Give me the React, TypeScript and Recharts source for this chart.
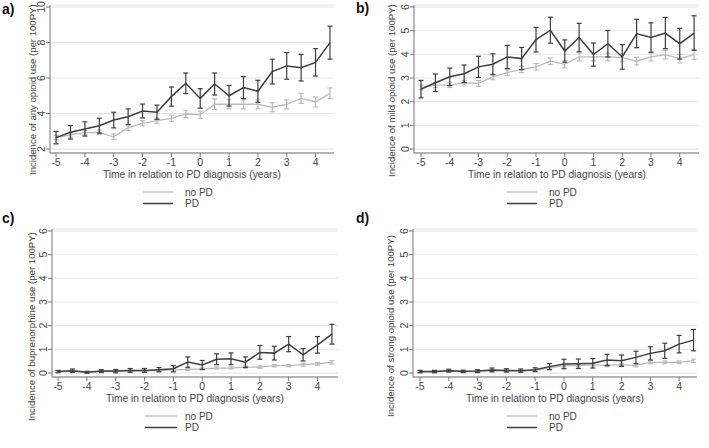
import React from 'react';
import { LineChart, Line, XAxis, YAxis, CartesianGrid, ErrorBar } from 'recharts';

const FONT = '"Liberation Sans", Arial, Helvetica, sans-serif';

const years = [-5, -4.5, -4, -3.5, -3, -2.5, -2, -1.5, -1, -0.5, 0, 0.5, 1, 1.5, 2, 2.5, 3, 3.5, 4, 4.5];
const xTicks = [-5, -4, -3, -2, -1, 0, 1, 2, 3, 4];
const ticksAny = [2, 4, 6, 8, 10];
const ticksSix = [0, 1, 2, 3, 4, 5, 6];

// a) any opioid use
const anyPD = [2.64, 2.94, 3.13, 3.31, 3.63, 3.82, 4.14, 4.07, 4.95, 5.70, 4.85, 5.66, 5.00, 5.46, 5.25, 6.36, 6.68, 6.58, 6.88, 7.99];
const anyPDci = [0.35, 0.38, 0.40, 0.42, 0.44, 0.44, 0.39, 0.40, 0.54, 0.58, 0.55, 0.62, 0.58, 0.62, 0.62, 0.70, 0.75, 0.75, 0.77, 0.93];
const anyNoPD = [2.64, 2.79, 2.92, 2.94, 2.69, 3.20, 3.45, 3.60, 3.73, 3.97, 3.92, 4.52, 4.52, 4.52, 4.52, 4.35, 4.52, 4.85, 4.65, 5.14];
const anyNoPDci = [0.12, 0.12, 0.12, 0.12, 0.15, 0.15, 0.15, 0.15, 0.18, 0.2, 0.2, 0.3, 0.25, 0.25, 0.25, 0.25, 0.25, 0.28, 0.28, 0.3];

// b) mild opioid use
const mildPD = [2.53, 2.80, 3.05, 3.18, 3.47, 3.58, 3.89, 3.82, 4.62, 5.02, 4.14, 4.71, 3.99, 4.45, 3.89, 4.88, 4.71, 4.90, 4.45, 4.90];
const mildPDci = [0.37, 0.37, 0.37, 0.37, 0.45, 0.44, 0.49, 0.47, 0.52, 0.55, 0.47, 0.60, 0.49, 0.56, 0.52, 0.60, 0.62, 0.66, 0.65, 0.73];
const mildNoPD = [2.60, 2.70, 2.70, 2.80, 2.77, 3.05, 3.23, 3.36, 3.47, 3.71, 3.58, 3.89, 3.89, 3.89, 3.86, 3.71, 3.89, 3.99, 3.82, 3.99];
const mildNoPDci = [0.1, 0.1, 0.1, 0.1, 0.12, 0.12, 0.12, 0.13, 0.14, 0.14, 0.15, 0.17, 0.16, 0.16, 0.16, 0.16, 0.17, 0.18, 0.18, 0.2];

// c) buprenorphine use
const bupPD = [0.06, 0.10, 0.03, 0.08, 0.08, 0.11, 0.11, 0.14, 0.18, 0.46, 0.34, 0.58, 0.60, 0.46, 0.87, 0.84, 1.22, 0.77, 1.19, 1.64];
const bupPDci = [0.05, 0.07, 0.04, 0.06, 0.07, 0.08, 0.08, 0.09, 0.13, 0.22, 0.19, 0.23, 0.25, 0.22, 0.29, 0.29, 0.32, 0.26, 0.35, 0.42];
const bupNoPD = [0.06, 0.08, 0.03, 0.07, 0.07, 0.09, 0.09, 0.11, 0.13, 0.15, 0.17, 0.21, 0.21, 0.25, 0.25, 0.31, 0.31, 0.35, 0.39, 0.45];
const bupNoPDci = [0.03, 0.03, 0.02, 0.03, 0.03, 0.03, 0.03, 0.03, 0.04, 0.04, 0.04, 0.04, 0.04, 0.05, 0.05, 0.05, 0.05, 0.06, 0.06, 0.07];

// d) strong opioid use
const strPD = [0.06, 0.06, 0.10, 0.07, 0.08, 0.13, 0.11, 0.10, 0.14, 0.27, 0.38, 0.39, 0.41, 0.55, 0.52, 0.66, 0.83, 0.94, 1.22, 1.39];
const strPDci = [0.05, 0.05, 0.06, 0.05, 0.06, 0.08, 0.07, 0.07, 0.08, 0.13, 0.2, 0.2, 0.2, 0.24, 0.24, 0.26, 0.28, 0.32, 0.37, 0.45];
const strNoPD = [0.05, 0.05, 0.08, 0.06, 0.07, 0.10, 0.09, 0.09, 0.12, 0.21, 0.31, 0.31, 0.34, 0.32, 0.35, 0.31, 0.45, 0.45, 0.45, 0.52];
const strNoPDci = [0.03, 0.03, 0.03, 0.03, 0.03, 0.04, 0.03, 0.03, 0.04, 0.05, 0.05, 0.05, 0.05, 0.05, 0.05, 0.05, 0.06, 0.06, 0.06, 0.07];

const xTitle = 'Time in relation to PD diagnosis (years)';
const legendLabels = ['no PD', 'PD'];

const PD_COLOR = '#3d3d3d';
const NOPD_COLOR = '#bababa';

function build(pd: number[], pdCi: number[], no: number[], noCi: number[]) {
  return years.map((t, i) => ({ t, pd: pd[i], pdErr: pdCi[i], nopd: no[i], nopdErr: noCi[i] }));
}

const dataA = build(anyPD, anyPDci, anyNoPD, anyNoPDci);
const dataB = build(mildPD, mildPDci, mildNoPD, mildNoPDci);
const dataC = build(bupPD, bupPDci, bupNoPD, bupNoPDci);
const dataD = build(strPD, strPDci, strNoPD, strNoPDci);

const YTick = (props: any) => {
  const { x, y, payload } = props;
  return (
    <text x={x} y={y} transform={`rotate(-90 ${x} ${y})`} textAnchor="middle" fontSize={10.5} fill="#444" fontFamily={FONT}>
      {payload.value}
    </text>
  );
};

const XTick = (props: any) => {
  const { x, y, payload } = props;
  return (
    <text x={x} y={y} dy="0.71em" textAnchor="middle" fontSize={10.5} fill="#444" fontFamily={FONT}>
      {payload.value}
    </text>
  );
};

function Panel(props: any) {
  const { left, top, width, data, yDomain, yTicks, yAxisWidth, right, xDomain } = props;
  return (
    <div style={{ position: 'absolute', left, top }}>
      <LineChart width={width} height={224} data={data} margin={{ top: 5, right, left: 0, bottom: 41 }}>
        <CartesianGrid horizontal vertical={false} stroke="#e4e4e4" />
        <XAxis
          type="number"
          dataKey="t"
          domain={xDomain}
          ticks={xTicks}
          allowDataOverflow
          interval={0}
          tick={<XTick />}
          tickSize={4}
          tickMargin={2}
          height={30}
          stroke="#777"
        />
        <YAxis
          type="number"
          domain={yDomain}
          ticks={yTicks}
          allowDataOverflow
          interval={0}
          width={yAxisWidth}
          tick={<YTick />}
          tickSize={4}
          tickMargin={1}
          stroke="#777"
        />
        <Line dataKey="nopd" stroke={NOPD_COLOR} strokeWidth={1.3} dot={false} isAnimationActive={false}>
          <ErrorBar dataKey="nopdErr" width={2.5} stroke={NOPD_COLOR} strokeWidth={1.2} direction="y" isAnimationActive={false} />
        </Line>
        <Line dataKey="pd" stroke={PD_COLOR} strokeWidth={1.5} dot={false} isAnimationActive={false}>
          <ErrorBar dataKey="pdErr" width={2.5} stroke={PD_COLOR} strokeWidth={1.2} direction="y" isAnimationActive={false} />
        </Line>
      </LineChart>
    </div>
  );
}

const panels = [
  { key: 'a', left: 0, top: 0, width: 354, data: dataA, yDomain: [1.775, 10.11], yTicks: ticksAny, yAxisWidth: 50, right: 20, xDomain: [-5.21, 4.64] },
  { key: 'b', left: 354, top: 0, width: 355, data: dataB, yDomain: [-0.169, 6.085], yTicks: ticksSix, yAxisWidth: 60, right: 10, xDomain: [-5.244, 4.67] },
  { key: 'c', left: 0, top: 224, width: 354, data: dataC, yDomain: [-0.169, 6.085], yTicks: ticksSix, yAxisWidth: 52, right: 16, xDomain: [-5.21, 4.71] },
  { key: 'd', left: 354, top: 224, width: 355, data: dataD, yDomain: [-0.169, 6.085], yTicks: ticksSix, yAxisWidth: 59, right: 12, xDomain: [-5.243, 4.62] },
];

const yTitles = [
  { text: 'Incidence of any opioid use (per 100PY)', x: 36, y: 175 },
  { text: 'Incidence of mild opioid use (per 100PY)', x: 395, y: 177 },
  { text: 'Incidence of buprenorphine use (per 100PY)', x: 35, y: 421 },
  { text: 'Incidence of strong opioid use (per 100PY)', x: 394, y: 417 },
];

const letters = [
  { text: 'a)', x: 2, y: 14 },
  { text: 'b)', x: 356, y: 13 },
  { text: 'c)', x: 2, y: 223 },
  { text: 'd)', x: 356, y: 223 },
];

const xTitles = [
  { x: 192, y: 177.5 },
  { x: 557, y: 177.5 },
  { x: 195, y: 401.5 },
  { x: 555, y: 401.5 },
];

const legends = [
  { x1: 143, x2: 173, tx: 185, y: 192 },
  { x1: 507, x2: 537, tx: 549, y: 192 },
  { x1: 145, x2: 177, tx: 185, y: 416 },
  { x1: 507, x2: 537, tx: 549, y: 416 },
];

export default function App() {
  return (
    <div style={{ position: 'absolute', left: 0, top: 0, width: 709, height: 448, background: '#ffffff', overflow: 'hidden', fontFamily: FONT }}>
      {panels.map((p) => (
        <Panel {...p} />
      ))}
      <svg width={709} height={448} style={{ position: 'absolute', left: 0, top: 0, pointerEvents: 'none' }}>
        {letters.map((l) => (
          <text key={l.text} x={l.x} y={l.y} fontSize={14} fontWeight="bold" fill="#111" fontFamily={FONT}>
            {l.text}
          </text>
        ))}
        {yTitles.map((t) => (
          <text key={t.text} x={t.x} y={t.y} transform={`rotate(-90 ${t.x} ${t.y})`} textAnchor="start" fontSize={9.6} fill="#444" fontFamily={FONT}>
            {t.text}
          </text>
        ))}
        {xTitles.map((t, i) => (
          <text key={i} x={t.x} y={t.y} textAnchor="middle" fontSize={10.2} fill="#444" fontFamily={FONT}>
            {xTitle}
          </text>
        ))}
        {legends.map((g, i) => (
          <g key={i}>
            <line x1={g.x1} x2={g.x2} y1={g.y} y2={g.y} stroke={NOPD_COLOR} strokeWidth={1.3} />
            <text x={g.tx} y={g.y + 3.5} fontSize={10} fill="#444" fontFamily={FONT}>{legendLabels[0]}</text>
            <line x1={g.x1} x2={g.x2} y1={g.y + 11.5} y2={g.y + 11.5} stroke={PD_COLOR} strokeWidth={1.5} />
            <text x={g.tx} y={g.y + 15} fontSize={10} fill="#444" fontFamily={FONT}>{legendLabels[1]}</text>
          </g>
        ))}
      </svg>
    </div>
  );
}
